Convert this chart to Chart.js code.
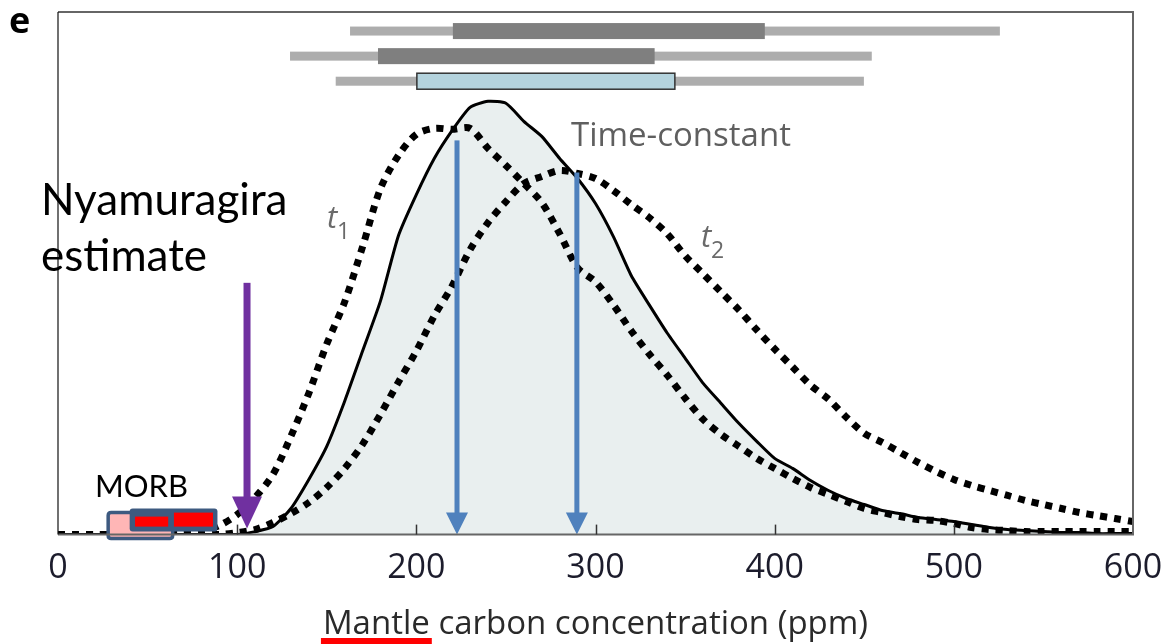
<!DOCTYPE html>
<html>
<head>
<meta charset="utf-8">
<script src="https://cdn.jsdelivr.net/npm/chart.js@4.4.0/dist/chart.umd.min.js"></script>
<style>
  html, body { margin: 0; padding: 0; background: #fff; }
  #wrap { width: 1168px; height: 644px; }
</style>
</head>
<body>
<div id="wrap"><canvas id="myChart" width="1168" height="644"></canvas></div>
<script>
'use strict';
// mantle carbon concentration (ppm), 10 ppm steps
var ppm = [0, 10, 20, 30, 40, 50, 60, 70, 80, 90, 100, 110, 120, 130, 140, 150, 160, 170, 180, 190,
  200, 210, 220, 230, 240, 250, 260, 270, 280, 290, 300, 310, 320, 330, 340, 350, 360, 370, 380, 390,
  400, 410, 420, 430, 440, 450, 460, 470, 480, 490, 500, 510, 520, 530, 540, 550, 560, 570, 580, 590, 600];

// relative frequency (arbitrary units)
var timeConstant = [0, 0, 0, 0, 0, 0, 0, 0, 0, 0, 0, 3, 8, 26, 55, 88, 133, 183, 233, 298,
  339, 375, 403, 426, 432, 430, 412, 397, 375, 355, 330, 297, 258, 229, 201, 176, 151, 131, 111, 93,
  76, 66, 54, 44, 36, 30, 24, 21, 17, 15, 13, 10, 7, 5, 4, 3, 2, 2, 1, 1, 1];
var t1 = [0, 0, 0, 0, 0, 0, 0, 1, 3, 9, 20, 37, 60, 98, 141, 190, 232, 287, 345, 378,
  399, 405, 404, 405, 385, 368, 350, 331, 300, 266, 252, 229, 203, 180, 159, 136, 115, 100, 88, 76,
  66, 56, 47, 40, 33, 26, 22, 18, 15, 14, 11, 7, 5, 4, 3, 3, 3, 3, 3, 3, 3];
var t2 = [0, 0, 0, 0, 0, 0, 0, 0, 0, 0, 2, 5, 12, 21, 32, 47, 66, 90, 120, 152,
  183, 218, 248, 284, 311, 332, 350, 357, 363, 360, 355, 343, 329, 316, 300, 278, 260, 242, 224, 204,
  185, 167, 149, 135, 117, 101, 92, 82, 72, 63, 55, 49, 44, 39, 34, 30, 26, 22, 19, 16, 13];

// range bars at the top (ppm)
var rangeRowY = [502, 477, 452];
var whiskerLow = [163, 129.5, 155];
var whiskerHigh = [525.7, 454.2, 449.8];
var boxLow = [220.4, 178.6, 200.3];
var boxHigh = [394.5, 333, 344.3];

// arrows (ppm, top, tip)
var arrowX = [105.5, 222.7, 289.6];
var arrowTop = [251, 393, 361];
var arrowTip = [6, 0, 0];

// MORB ranges (ppm)
var morbPink = [28, 64];
var morbBlue = [40, 89];
var morbRed = [[43, 61.5], [64.7, 86.5]];

var xTicks = [0, 100, 200, 300, 400, 500, 600];

function toPoints(values) {
  var pts = [];
  for (var i = 0; i < ppm.length; i++) {
    pts.push({ x: ppm[i], y: values[i] });
  }
  return pts;
}

function drawArrow(ctx, x, yTop, yTip, color, shaft, headW, headH) {
  ctx.fillStyle = color;
  ctx.fillRect(x - shaft / 2, yTop, shaft, yTip - headH - yTop + 1);
  ctx.beginPath();
  ctx.moveTo(x - headW / 2, yTip - headH);
  ctx.lineTo(x + headW / 2, yTip - headH);
  ctx.lineTo(x, yTip);
  ctx.closePath();
  ctx.fill();
}

function roundRect(ctx, x, y, w, h, r) {
  ctx.beginPath();
  ctx.moveTo(x + r, y);
  ctx.lineTo(x + w - r, y);
  ctx.quadraticCurveTo(x + w, y, x + w, y + r);
  ctx.lineTo(x + w, y + h - r);
  ctx.quadraticCurveTo(x + w, y + h, x + w - r, y + h);
  ctx.lineTo(x + r, y + h);
  ctx.quadraticCurveTo(x, y + h, x, y + h - r);
  ctx.lineTo(x, y + r);
  ctx.quadraticCurveTo(x, y, x + r, y);
  ctx.closePath();
}

var decorPlugin = {
  id: 'decor',
  afterDatasetsDraw: function(chart) {
    var ctx = chart.ctx;
    var xs = chart.scales.x;
    var ys = chart.scales.y;
    var area = chart.chartArea;
    ctx.save();

    // range bars
    for (var i = 0; i < rangeRowY.length; i++) {
      var cy = ys.getPixelForValue(rangeRowY[i]);
      var wl = xs.getPixelForValue(whiskerLow[i]);
      var wh = xs.getPixelForValue(whiskerHigh[i]);
      var bl = xs.getPixelForValue(boxLow[i]);
      var bh = xs.getPixelForValue(boxHigh[i]);
      ctx.fillStyle = '#adadad';
      ctx.fillRect(wl, cy - 4.5, wh - wl, 9);
      if (i < 2) {
        ctx.fillStyle = '#7f7f7f';
        ctx.fillRect(bl, cy - 8, bh - bl, 16);
      } else {
        ctx.fillStyle = '#b4d3dd';
        ctx.fillRect(bl, cy - 8, bh - bl, 16);
        ctx.strokeStyle = '#333';
        ctx.lineWidth = 1.5;
        ctx.strokeRect(bl, cy - 8, bh - bl, 16);
      }
    }

    // arrows
    var arrowColors = ['#7030a0', '#4f81bd', '#4f81bd'];
    for (var a = 0; a < arrowX.length; a++) {
      var big = a === 0;
      drawArrow(ctx, xs.getPixelForValue(arrowX[a]), ys.getPixelForValue(arrowTop[a]),
        ys.getPixelForValue(arrowTip[a]), arrowColors[a],
        big ? 7 : 5, big ? 30 : 22, big ? 32 : 22);
    }

    // MORB boxes
    var base = ys.getPixelForValue(0);
    var p0 = xs.getPixelForValue(morbPink[0]);
    var p1 = xs.getPixelForValue(morbPink[1]);
    roundRect(ctx, p0, base - 22, p1 - p0, 26, 3);
    ctx.fillStyle = '#ffb6b6';
    ctx.fill();
    ctx.strokeStyle = '#3d5a80';
    ctx.lineWidth = 3.5;
    ctx.stroke();
    var b0 = xs.getPixelForValue(morbBlue[0]);
    var b1 = xs.getPixelForValue(morbBlue[1]);
    roundRect(ctx, b0, base - 26, b1 - b0, 23, 3);
    ctx.fillStyle = '#3d5a80';
    ctx.fill();
    ctx.fillStyle = '#ff0000';
    for (var r = 0; r < morbRed.length; r++) {
      var r0 = xs.getPixelForValue(morbRed[r][0]);
      var r1 = xs.getPixelForValue(morbRed[r][1]);
      ctx.fillRect(r0, base - (r === 0 ? 18 : 22), r1 - r0, r === 0 ? 10 : 14);
    }

    // frame
    ctx.strokeStyle = '#666';
    ctx.lineWidth = 2;
    ctx.beginPath();
    ctx.moveTo(area.left, area.top);
    ctx.lineTo(area.right, area.top);
    ctx.lineTo(area.right, area.bottom);
    ctx.lineTo(area.left, area.bottom);
    ctx.stroke();
    ctx.strokeStyle = '#111';
    ctx.lineWidth = 1.2;
    ctx.beginPath();
    ctx.moveTo(area.left, area.top);
    ctx.lineTo(area.left, area.bottom);
    ctx.stroke();
    // inward ticks
    ctx.strokeStyle = '#333';
    ctx.lineWidth = 1.5;
    for (var t = 1; t < xTicks.length - 1; t++) {
      var tx = Math.round(xs.getPixelForValue(xTicks[t])) + 0.5;
      ctx.beginPath();
      ctx.moveTo(tx, area.bottom);
      ctx.lineTo(tx, area.bottom - 10);
      ctx.stroke();
    }

    // texts
    ctx.textBaseline = 'alphabetic';
    ctx.textAlign = 'left';
    ctx.fillStyle = '#000';
    ctx.font = 'bold 36px "Open Sans"';
    ctx.fillText('e', 9, 33);
    ctx.font = '44px Lato';
    ctx.fillText('Nyamuragira', 41, 215);
    ctx.fillText('estimate', 41, 271);
    ctx.font = '31px Lato';
    ctx.fillText('MORB', 95, 497);
    ctx.fillStyle = '#5f5f5f';
    ctx.font = '33px "Open Sans"';
    ctx.fillText('Time-constant', 571, 146);
    ctx.fillStyle = '#6a6a6a';
    ctx.font = 'italic 31px "Open Sans"';
    ctx.fillText('t', 327, 228);
    ctx.fillText('t', 701, 247);
    ctx.font = '23px "Open Sans"';
    ctx.fillText('1', 337, 239);
    ctx.fillText('2', 711, 258);

    // red underline under "Mantle"
    ctx.font = '33px "Open Sans"';
    var title = 'Mantle carbon concentration (ppm)';
    var tw = ctx.measureText(title).width;
    var mw = ctx.measureText('Mantle').width;
    var sx = (area.left + area.right) / 2 - tw / 2;
    ctx.fillStyle = '#ff0000';
    ctx.fillRect(sx - 2, 638, mw + 4, 6);
    ctx.restore();
  }
};

var ctx = document.getElementById('myChart').getContext('2d');
var chart = new Chart(ctx, {
  type: 'line',
  data: {
    datasets: [
      {
        label: 't1',
        data: toPoints(t1),
        borderColor: '#000',
        borderWidth: 7,
        borderDash: [7, 7],
        fill: false,
        tension: 0.3,
        pointRadius: 0
      },
      {
        label: 't2',
        data: toPoints(t2),
        borderColor: '#000',
        borderWidth: 7,
        borderDash: [7, 7],
        fill: false,
        tension: 0.3,
        pointRadius: 0
      },
      {
        label: 'Time-constant',
        data: toPoints(timeConstant),
        borderColor: '#000',
        borderWidth: 3,
        backgroundColor: '#e9efef',
        fill: 'origin',
        tension: 0.2,
        pointRadius: 0
      }
    ]
  },
  options: {
    responsive: false,
    devicePixelRatio: 1,
    animation: false,
    layout: { padding: { left: 58, right: 35, top: 12, bottom: 0 } },
    plugins: { legend: { display: false }, tooltip: { enabled: false } },
    scales: {
      x: {
        type: 'linear',
        min: 0,
        max: 600,
        grid: { display: false, drawTicks: false },
        border: { display: false },
        afterFit: function(scale) {
          // labels at the ends fit inside the layout padding
          scale.paddingLeft = 0;
          scale.paddingRight = 0;
        },
        ticks: {
          stepSize: 100,
          padding: 13,
          color: '#1c1c2c',
          font: { family: 'Open Sans', size: 34 }
        },
        title: {
          display: true,
          text: 'Mantle carbon concentration (ppm)',
          color: '#2a2a2a',
          padding: { top: 3, bottom: 0 },
          font: { family: 'Open Sans', size: 33 }
        }
      },
      y: {
        display: false,
        min: 0,
        max: 521
      }
    }
  },
  plugins: [decorPlugin]
});
</script>
</body>
</html>
